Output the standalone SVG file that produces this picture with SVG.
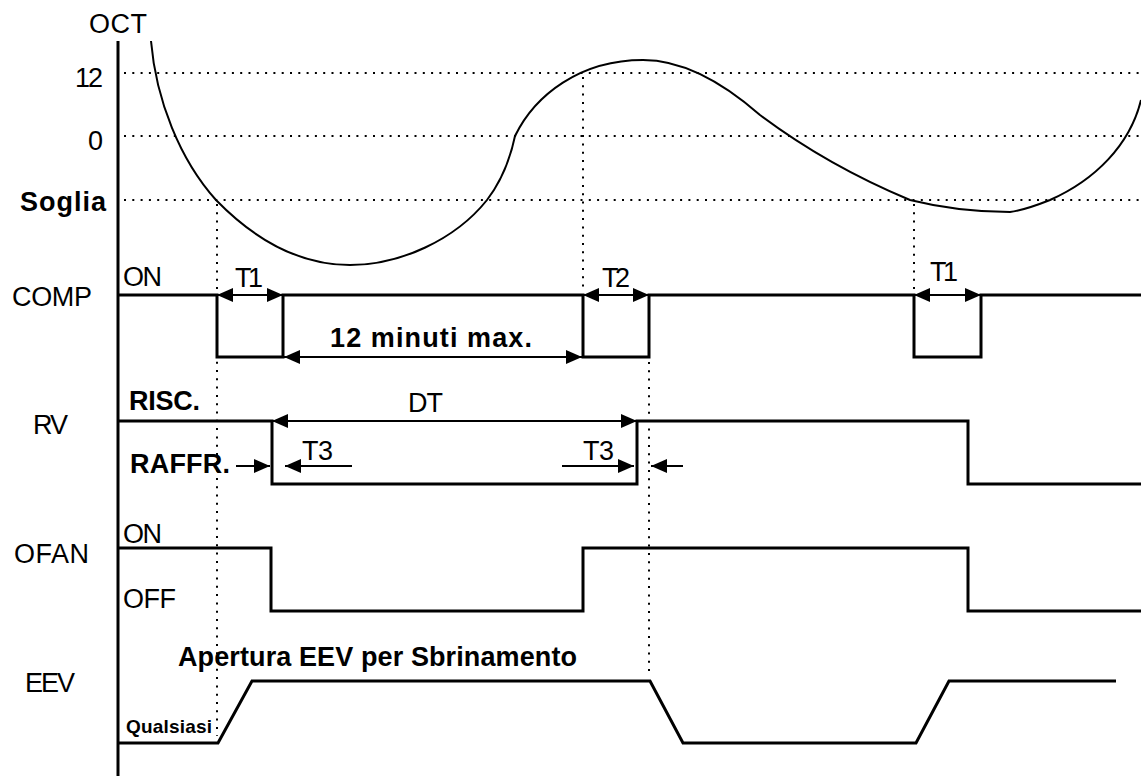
<svg xmlns="http://www.w3.org/2000/svg" width="1141" height="776" viewBox="0 0 1141 776">
<style>
text{font-family:"Liberation Sans",Arial,sans-serif;font-size:27px;fill:#000}
.b{font-weight:bold;font-size:27px}
.sig{fill:none;stroke:#000;stroke-width:3;stroke-linejoin:miter}
.dot{fill:none;stroke:#000;stroke-width:2;stroke-dasharray:2 6.3}
.arr{fill:none;stroke:#000;stroke-width:2}
.dbl{marker-start:url(#ah);marker-end:url(#ah)}
.one{marker-end:url(#ah)}
</style>
<defs>
<marker id="ah" viewBox="0 0 16 14" refX="16" refY="7" markerWidth="16" markerHeight="14" markerUnits="userSpaceOnUse" orient="auto-start-reverse">
<path d="M0,0 L16,7 L0,14 Z" fill="#000"/>
</marker>
</defs>
<rect width="1141" height="776" fill="#fff"/>

<g id="axis">
<line x1="118" y1="41" x2="118" y2="776" stroke="#000" stroke-width="3"/>
<text x="89" y="33" textLength="58" lengthAdjust="spacing">OCT</text>
<text x="103" y="87" text-anchor="end" textLength="28" lengthAdjust="spacing">12</text>
<text x="88" y="150">0</text>
<text class="b" x="20" y="211" textLength="86" lengthAdjust="spacing">Soglia</text>
</g>

<g id="gridlines">
<line class="dot" x1="124" y1="73" x2="1141" y2="73"/>
<line class="dot" x1="124" y1="136" x2="1141" y2="136"/>
<line class="dot" x1="124" y1="200" x2="1141" y2="200"/>
<line class="dot" x1="217" y1="204" x2="217" y2="736"/>
<line class="dot" x1="583" y1="77" x2="583" y2="292"/>
<line class="dot" x1="649" y1="362" x2="649" y2="673"/>
<line class="dot" x1="914" y1="204" x2="914" y2="290"/>
</g>

<g id="oct-curve">
<path fill="none" stroke="#000" stroke-width="2" d="M151,41 C156,100 180,160 216,200 C255,240 300,265 350,265 C400,265 455,240 487,200 C500,183 510,160 515,136 C535,95 580,60 643,60 C680,60 720,80 760,115 C800,145 850,175 910,200 C950,210 985,212 1010,212 C1025,210 1040,204 1050,200 C1095,180 1130,145 1141,100"/>
</g>

<g id="comp">
<text x="12" y="306" textLength="80" lengthAdjust="spacing">COMP</text>
<text x="123" y="286" textLength="39" lengthAdjust="spacing">ON</text>
<path class="sig" d="M118,295 H217 V357 H283 V295 H583 V357 H649 V295 H914 V357 H981 V295 H1141"/>
<text x="235" y="287" textLength="28" lengthAdjust="spacing">T1</text>
<text x="602" y="287" textLength="28" lengthAdjust="spacing">T2</text>
<text x="930" y="281" textLength="28" lengthAdjust="spacing">T1</text>
<text class="b" x="330" y="347" textLength="202" lengthAdjust="spacing">12 minuti max.</text>
</g>

<g id="rv">
<text x="33" y="434" textLength="35" lengthAdjust="spacing">RV</text>
<text class="b" x="129" y="410" textLength="71" lengthAdjust="spacing">RISC.</text>
<text class="b" x="130" y="473" textLength="100" lengthAdjust="spacing">RAFFR.</text>
<path class="sig" d="M118,421 H272 V484 H637 V421 H968 V484 H1141"/>
<text x="408" y="412" textLength="35" lengthAdjust="spacing">DT</text>
<text x="302" y="460" textLength="31" lengthAdjust="spacing">T3</text>
<text x="583" y="460" textLength="31" lengthAdjust="spacing">T3</text>
</g>

<g id="ofan">
<text x="14" y="563" textLength="75" lengthAdjust="spacing">OFAN</text>
<text x="123" y="543" textLength="39" lengthAdjust="spacing">ON</text>
<text x="123" y="608" textLength="53" lengthAdjust="spacing">OFF</text>
<path class="sig" d="M118,548 H271 V611 H583 V548 H968 V611 H1141"/>
</g>

<g id="eev">
<text x="25" y="692" textLength="50" lengthAdjust="spacing">EEV</text>
<text class="b" x="178" y="666" textLength="399" lengthAdjust="spacing">Apertura EEV per Sbrinamento</text>
<text class="b" x="126" y="733" style="font-size:19px" textLength="86" lengthAdjust="spacing">Qualsiasi</text>
<path class="sig" d="M118,743 H218 L252,681 H650 L683,743 H916 L949,681 H1116"/>
</g>

<g id="connectors">
<line class="arr dbl" x1="217" y1="295" x2="283" y2="295"/>
<line class="arr dbl" x1="583" y1="295" x2="649" y2="295"/>
<line class="arr dbl" x1="914" y1="295" x2="981" y2="295"/>
<line class="arr dbl" x1="284" y1="357" x2="582" y2="357"/>
<line class="arr dbl" x1="272" y1="421" x2="637" y2="421"/>
<line class="arr one" x1="236" y1="466" x2="270" y2="466"/>
<line class="arr one" x1="352" y1="466" x2="285" y2="466"/>
<line class="arr one" x1="562" y1="466" x2="634" y2="466"/>
<line class="arr one" x1="683" y1="466" x2="651" y2="466"/>
</g>
</svg>
